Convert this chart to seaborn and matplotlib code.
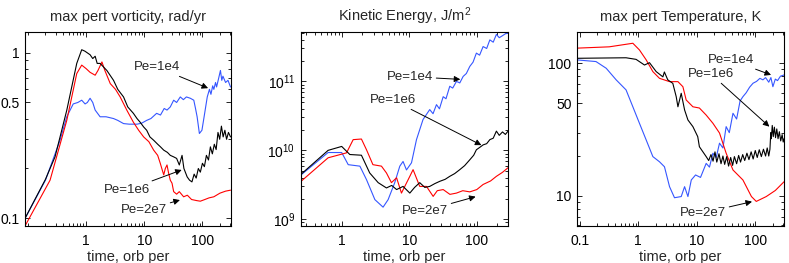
import matplotlib
matplotlib.use("Agg")
import numpy as np
import pandas as pd
import matplotlib.pyplot as plt
import seaborn as sns
from matplotlib.ticker import FixedLocator, FixedFormatter, NullFormatter

# ---------------- data ----------------
# Panel 1: max pert vorticity, rad/yr
vort_t_1e4 = [0.089, 0.2, 0.356, 0.465, 0.6, 0.72, 0.84, 0.96, 1.05, 1.17, 1.3, 1.43, 1.74, 2.2, 2.96,
              3.5, 4.4, 5.5, 7.5, 9, 11, 13, 16.3, 19, 22, 24.6, 28, 32, 36, 41.6, 47, 53, 62, 71, 76, 81,
              88.6, 98, 108, 121, 132, 140, 150, 157, 168, 175, 190, 204, 215, 225, 250, 275, 304]
vort_v_1e4 = [0.1, 0.17, 0.296, 0.41, 0.49, 0.5, 0.516, 0.49, 0.5, 0.53, 0.5, 0.45, 0.41, 0.41, 0.40,
              0.39, 0.373, 0.37, 0.37, 0.375, 0.39, 0.40, 0.43, 0.42, 0.46, 0.45, 0.47, 0.516, 0.5, 0.54, 0.52,
              0.54, 0.53, 0.516, 0.46, 0.41, 0.325, 0.34, 0.42, 0.54, 0.6, 0.56, 0.63, 0.6, 0.66, 0.62, 0.7, 0.78, 0.68,
              0.72, 0.66, 0.68, 0.62]
vort_t_1e6 = [0.089, 0.2, 0.292, 0.465, 0.69, 0.84, 0.95, 1.17, 1.3, 1.43, 1.55, 1.74, 2.27, 2.96, 3.5,
              4.4, 5.2, 6.5, 7.5, 8.5, 9.75, 11, 12.5, 14.5, 17, 19, 21.6, 25, 28, 32, 36, 40, 44.6, 48,
              54.6, 60, 66, 72, 78, 85, 92, 100, 108, 117, 127, 137, 148, 160, 172, 185, 198, 212, 227,
              243, 260, 280, 304]
vort_v_1e6 = [0.1, 0.172, 0.235, 0.449, 0.86, 1.04, 1.02, 0.97, 0.92, 0.95, 0.86, 0.86, 0.78, 0.68, 0.6,
              0.54, 0.47, 0.43, 0.40, 0.38, 0.356, 0.34, 0.31, 0.296, 0.28, 0.27, 0.258, 0.25, 0.24, 0.235,
              0.23, 0.21, 0.24, 0.2, 0.178, 0.17, 0.166, 0.185, 0.175, 0.2, 0.19, 0.215, 0.205, 0.24, 0.225,
              0.27, 0.245, 0.28, 0.26, 0.33, 0.3, 0.36, 0.31, 0.34, 0.3, 0.33, 0.31]
vort_t_2e7 = [0.089, 0.24, 0.465, 0.69, 0.84, 1.0, 1.17, 1.43, 1.6, 1.87, 2.1, 2.6, 3.2, 3.85, 5, 6.5, 8,
              9.75, 12, 14.5, 17, 18.9, 20, 21.6, 23, 24.6, 26, 28, 30, 32, 36, 40, 47.5, 55, 65, 80, 92,
              110, 130, 157, 200, 250, 304]
vort_v_2e7 = [0.09, 0.17, 0.39, 0.747, 0.84, 0.8, 0.76, 0.73, 0.78, 0.878, 0.78, 0.65, 0.6, 0.54, 0.45, 0.38,
              0.34, 0.31, 0.29, 0.258, 0.24, 0.214, 0.2, 0.183, 0.2, 0.21, 0.19, 0.17, 0.163, 0.145, 0.14,
              0.145, 0.135, 0.138, 0.13, 0.128, 0.127, 0.13, 0.133, 0.135, 0.142, 0.146, 0.148]

# Panel 2: Kinetic energy, J/m^2
ke_t_1e4 = [0.25, 0.63, 1.0, 1.25, 1.86, 2.33, 3.1, 4.1, 4.87, 6.1, 7.25, 8.1, 9.1, 10.8, 12.8, 16, 20.1,
            22.5, 25.3, 28, 31.8, 35, 39.8, 44, 50, 56, 62.8, 70, 78.8, 88, 98.6, 110, 124, 140, 156, 175,
            195, 215, 240, 265, 290]
ke_v_1e4 = [4.4e9, 9.3e9, 9.3e9, 6.2e9, 5.9e9, 3.76e9, 1.93e9, 1.5e9, 1.93e9, 3.4e9, 5.9e9, 6.9e9, 5.2e9,
            6.6e9, 1.43e10, 2.8e10, 3.9e10, 3.4e10, 4.6e10, 4.0e10, 6e10, 5.6e10, 8.5e10, 8.0e10, 1.0e11,
            9.5e10, 1.18e11, 1.3e11, 1.65e11, 1.9e11, 2.57e11, 2.4e11, 3.2e11, 3.0e11, 4.0e11, 3.7e11,
            4.8e11, 4.3e11, 4.6e11, 4.9e11, 5.0e11]
ke_t_1e6 = [0.25, 0.63, 1.0, 1.32, 1.96, 2.6, 3.47, 4.6, 5.5, 6.5, 8.1, 10.2, 12, 14.3, 17, 20.1, 24, 28.4,
            34, 39.8, 47, 56, 66, 78.8, 90, 98.6, 110, 124, 140, 156, 175, 195, 215, 240, 265, 290]
ke_v_1e6 = [4.5e9, 1.0e10, 1.14e10, 8.7e9, 8.5e9, 4.7e9, 3.4e9, 2.85e9, 3.1e9, 2.7e9, 3.0e9, 2.4e9, 2.9e9,
            3.4e9, 2.9e9, 3.0e9, 3.3e9, 3.56e9, 3.8e9, 4.2e9, 4.6e9, 5.25e9, 6.0e9, 7.3e9, 8.5e9, 1.02e10,
            1.1e10, 1.2e10, 1.25e10, 1.43e10, 1.5e10, 1.9e10, 1.65e10, 1.85e10, 1.7e10, 1.9e10]
ke_t_2e7 = [0.25, 0.63, 1.18, 1.48, 1.96, 2.33, 2.9, 3.88, 4.6, 5.45, 6.5, 7.67, 10.2, 11.4, 14.3, 18, 22.6,
            26, 31.8, 40, 50, 62, 78.8, 100, 124, 160, 195, 240, 290]
ke_v_2e7 = [3.55e9, 7.8e9, 9.2e9, 1.43e10, 1.46e10, 1.02e10, 6.2e9, 5.9e9, 4.7e9, 3.4e9, 4.0e9, 2.4e9, 4.2e9,
            5.25e9, 3.0e9, 3.0e9, 2.15e9, 2.6e9, 2.7e9, 2.3e9, 2.4e9, 2.6e9, 2.5e9, 2.7e9, 3.2e9, 3.6e9,
            4.2e9, 4.8e9, 5.6e9]

# Panel 3: max pert Temperature, K
temp_t_1e4 = [0.09, 0.19, 0.284, 0.42, 0.62, 0.81, 1.05, 1.37, 1.78, 2.31, 2.81, 3.43, 4.17, 5.43, 6.2,
              7.07, 8.07, 9.55, 11.6, 14.5, 16.5, 18.9, 21.5, 24.5, 28, 31.8, 36, 41.6, 48, 55, 61.5, 70,
              80, 91.5, 105, 120, 135, 150, 170, 185, 200, 220, 240, 270, 310]
temp_v_1e4 = [106, 103, 91.7, 75, 63, 47, 35.3, 26.4, 19.8, 18.1, 16.6, 11.75, 9.7, 9.9, 11.75,
              9.9, 13.2, 14.4, 13.8, 17.6, 16.5, 21, 19.5, 25, 23, 33.3, 30, 42, 38, 52, 56, 60,
              66, 70.7, 73, 77, 75, 78, 72, 78, 66.6, 76, 74, 80, 81.6]
temp_t_1e6 = [0.09, 0.62, 0.92, 1.28, 1.56, 2.03, 2.64, 2.8, 3.2, 3.9, 4.46, 4.77, 5.43, 6.2, 7.07, 8.6,
              10.4, 11.1, 14.5, 16, 17.5, 19, 20.5, 22, 24, 26, 28, 30, 32.5, 35, 38, 41, 44, 48, 52, 56,
              61, 66, 72, 78, 85, 92, 100, 108, 117, 127, 138, 150, 160, 170, 178, 184, 188, 195, 203,
              212, 222, 233, 245, 258, 272, 288, 300, 310]
temp_v_1e6 = [109, 110, 107, 97, 101, 86.5, 79, 86, 75, 70.6, 56, 47, 59.4, 44.5, 37.4, 33.3,
              28, 23.5, 19.8, 18.5, 20.5, 18.3, 21.5, 18.0, 20.8, 17.5, 20.0, 17.3, 19.8, 16.8, 19.5,
              17.0, 19.8, 17.5, 20.2, 18.0, 20.5, 18.5, 21.0, 18.8, 21.5, 19.0, 22.0, 19.5, 22.3, 19.8,
              22.5, 20.0, 23.0, 20.0, 22.5, 30, 27, 34, 28, 33, 27.5, 32, 27, 30.5, 26, 29, 25.5, 27]
temp_t_2e7 = [0.09, 0.32, 0.81, 1.05, 1.37, 1.78, 2.31, 3.43, 4.77, 5.8, 6.6, 8.6, 11.1, 14.5, 18.9, 24.5,
              31.8, 41.6, 61.5, 86, 104, 154, 220, 310]
temp_v_2e7 = [130, 133, 141.5, 126, 106, 86.5, 77, 72.7, 72.7, 66.6, 52.9, 47, 46, 40.7, 35.3, 29.8,
              21, 15.7, 13.2, 9.9, 9.1, 9.9, 11.0, 12.8]

labels = ["Pe=1e4", "Pe=1e6", "Pe=2e7"]
BLUE, BLACK, RED = "#3556ff", "#000000", "#ff0000"

# ---------------- styling ----------------
sns.set_style("ticks")
plt.rcParams['font.family'] = ['Liberation Sans', 'DejaVu Sans']
plt.rcParams['mathtext.fontset'] = 'custom'
plt.rcParams['mathtext.rm'] = 'Liberation Sans'
plt.rcParams['mathtext.it'] = 'Liberation Sans:italic'
plt.rcParams['axes.linewidth'] = 0.8

fig = plt.figure(figsize=(7.89, 2.63), dpi=100)
fig.patch.set_facecolor("white")
H = 0.7376
B = 0.1407
ax1 = fig.add_axes([0.0317, B, 0.2611, H])
ax2 = fig.add_axes([0.3815, B, 0.2624, H])
ax3 = fig.add_axes([0.7313, B, 0.2624, H])


def minor_positions(lo, hi, majors):
    out = []
    for n in range(-3, 14):
        for k in range(1, 10):
            v = k * 10.0 ** n
            if lo <= v <= hi and not any(abs(v - m) / m < 1e-6 for m in majors):
                out.append(v)
    return out


def setup(ax, xlim, ylim, xt, xtl, yt, ytl, title):
    ax.set_xscale("log")
    ax.set_yscale("log")
    ax.set_xlim(*xlim)
    ax.set_ylim(*ylim)
    ax.xaxis.set_major_locator(FixedLocator(xt))
    ax.xaxis.set_major_formatter(FixedFormatter(xtl))
    ax.yaxis.set_major_locator(FixedLocator(yt))
    ax.yaxis.set_major_formatter(FixedFormatter(ytl))
    ax.xaxis.set_minor_locator(FixedLocator(minor_positions(xlim[0], xlim[1], xt)))
    ax.yaxis.set_minor_locator(FixedLocator(minor_positions(ylim[0], ylim[1], yt)))
    ax.xaxis.set_minor_formatter(NullFormatter())
    ax.yaxis.set_minor_formatter(NullFormatter())
    ax.tick_params(which="both", direction="in", top=True, right=True, width=0.6, labelsize=10, colors="k")
    ax.tick_params(which="major", length=3.5)
    ax.tick_params(which="minor", length=2)
    ax.tick_params(axis="x", which="major", pad=6)
    ax.tick_params(axis="y", which="major", pad=4)
    for s in ax.spines.values():
        s.set_visible(True)
        s.set_color("k")
    ax.set_title(title, fontsize=10.5, pad=8)
    ax.set_xlabel("time, orb per", fontsize=10.5, labelpad=1)
    ax.set_ylabel("")


def draw(ax, t, v, color):
    df = pd.DataFrame({"t": t, "v": v})
    sns.lineplot(data=df, x="t", y="v", ax=ax, color=color, lw=0.8, sort=False, estimator=None)


def note(ax, text, xy, xytext):
    ax.annotate(text, xy=xy, xytext=xytext, ha="right", va="center", fontsize=9.5,
                arrowprops=dict(arrowstyle="-|>", color="k", lw=0.7, mutation_scale=9,
                                shrinkA=0, shrinkB=0))


for ax in (ax1, ax2, ax3):
    ax.set_xscale("log")
    ax.set_yscale("log")

# Panel 1
draw(ax1, vort_t_1e4, vort_v_1e4, BLUE)
draw(ax1, vort_t_2e7, vort_v_2e7, RED)
draw(ax1, vort_t_1e6, vort_v_1e6, BLACK)
setup(ax1, (0.089, 310), (0.09, 1.33), [1, 10, 100], ["1", "10", "100"],
      [0.1, 0.5, 1], ["0.1", "0.5", "1"], "max pert vorticity, rad/yr")
note(ax1, labels[0], (125, 0.61), (41, 0.817))
note(ax1, labels[1], (44, 0.196), (12.6, 0.148))
note(ax1, labels[2], (41, 0.129), (24.6, 0.112))

# Panel 2
draw(ax2, ke_t_1e4, ke_v_1e4, BLUE)
draw(ax2, ke_t_2e7, ke_v_2e7, RED)
draw(ax2, ke_t_1e6, ke_v_1e6, BLACK)
setup(ax2, (0.25, 290), (8.0e8, 5.2e11), [1, 10, 100], ["1", "10", "100"],
      [1e9, 1e10, 1e11], [r"$10^{9}$", r"$10^{10}$", r"$10^{11}$"], r"Kinetic Energy, J/m$^{2}$")
note(ax2, labels[0], (57, 1.07e11), (22.5, 1.17e11))
note(ax2, labels[1], (117, 1.19e10), (12.6, 5.36e10))
note(ax2, labels[2], (96, 2.13e9), (37.5, 1.33e9))

# Panel 3
draw(ax3, temp_t_1e4, temp_v_1e4, BLUE)
draw(ax3, temp_t_2e7, temp_v_2e7, RED)
draw(ax3, temp_t_1e6, temp_v_1e6, BLACK)
setup(ax3, (0.09, 310), (5.94, 172), [0.1, 1, 10, 100], ["0.1", "1", "10", "100"],
      [10, 50, 100], ["10", "50", "100"], "max pert Temperature, K")
note(ax3, labels[0], (186, 81.7), (94, 106))
note(ax3, labels[1], (174, 33.3), (43.4, 83))
note(ax3, labels[2], (88, 9.06), (31.6, 7.45))

fig.savefig("out.png", dpi=100, facecolor="white")
